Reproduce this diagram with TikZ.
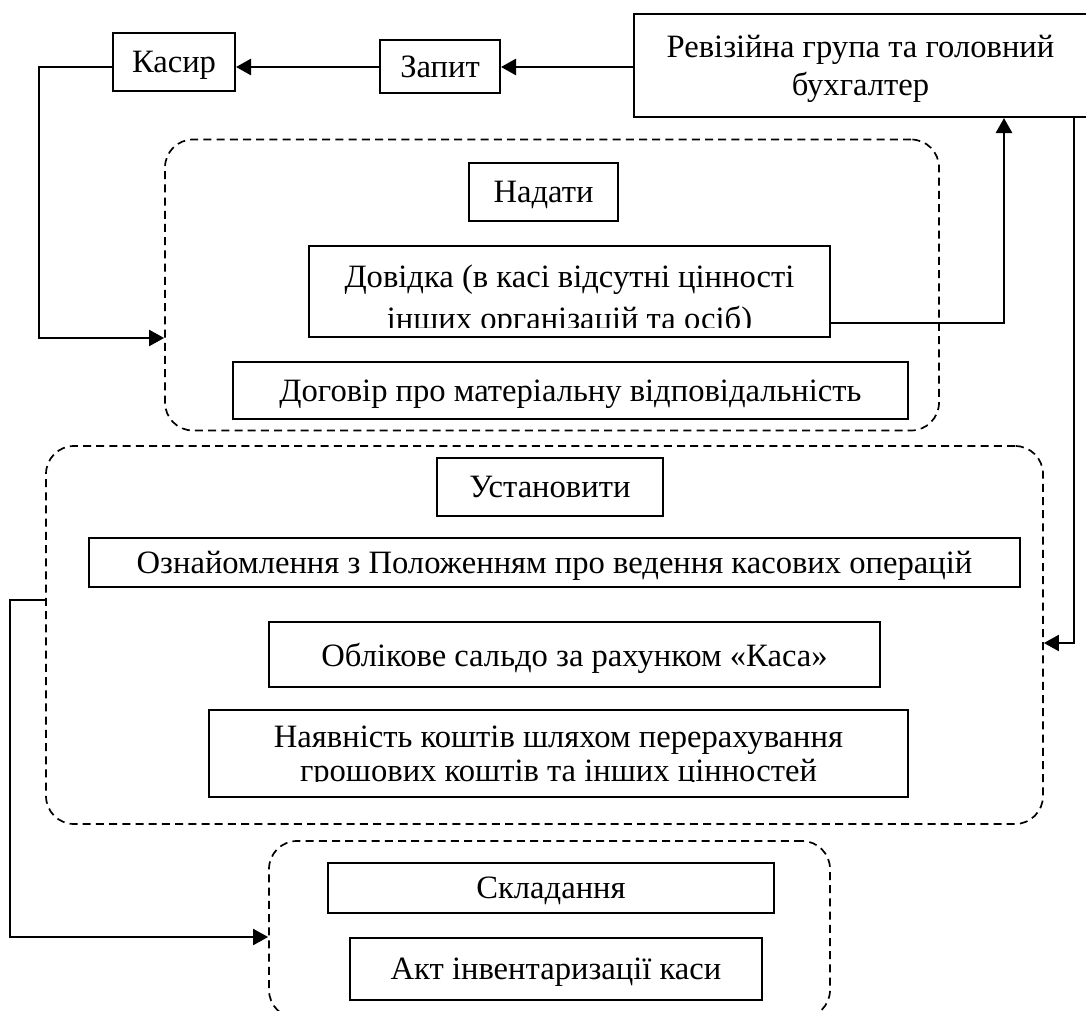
\documentclass[tikz,border=0pt]{standalone}
\usepackage{fontspec}
\setmainfont{Liberation Serif}
\usetikzlibrary{arrows.meta}

\begin{document}
\begin{tikzpicture}
[
    x=0.5pt, y=-0.5pt,
    every node/.style={font=\fontsize{16.3}{19}\selectfont},
    box/.style={draw, line width=1pt, inner sep=0pt, align=center, text depth=0pt},
    group/.style={draw, dashed, dash pattern=on 4pt off 2.6pt, line width=0.85pt,
        rounded corners=14pt, inner sep=0pt},
    conn/.style={line width=1.3pt, -{Triangle[length=7.5pt,width=8pt]}},
    cuttext/.style={anchor=base, align=center, inner sep=0pt,
        font=\fontsize{16.3}{21}\selectfont},
]
\useasboundingbox (0,0) rectangle (1086,1011);

% top row
\node[box, minimum width=61pt, minimum height=29pt] (kasyr) at (174,62) {Касир};
\node[box, minimum width=60pt, minimum height=26.5pt] (zapyt) at (440,67) {Запит};
\node[box, minimum width=226.5pt, minimum height=51.5pt] (revgroup) at (860.5,65.5)
    {Ревізійна група та головний\\бухгалтер};

% first group
\node[group, minimum width=387pt, minimum height=145.5pt] (grp1) at (552,285) {};
\node[box, minimum width=74.5pt, minimum height=29pt] (nadaty) at (543.5,192) {Надати};
\node[box, minimum width=260.5pt, minimum height=45.5pt, path picture={
    \clip ([yshift=5pt]path picture bounding box.south west)
        rectangle (path picture bounding box.north east);
    \node[cuttext] (dovtext) at ([yshift=-41.5pt]path picture bounding box.north)
        {Довідка (в касі відсутні цінності\\інших організацій та осіб)};
}] (dovidka) at (569.5,291.5) {};
\node[box, minimum width=337.5pt, minimum height=28.5pt] (dogovir) at (570.5,390.5)
    {Договір про матеріальну відповідальність};

% second group
\node[group, minimum width=498.5pt, minimum height=189pt] (grp2) at (544.5,635) {};
\node[box, minimum width=113pt, minimum height=29pt] (vstanovyty) at (550,487) {Установити};
\node[box, minimum width=465.5pt, minimum height=24.5pt] (oznaiom) at (554.5,562.5)
    {Ознайомлення з Положенням про ведення касових операцій};
\node[box, minimum width=305.5pt, minimum height=32.5pt] (saldo) at (574.5,654.5)
    {Облікове сальдо за рахунком «Каса»};
\node[box, minimum width=349.5pt, minimum height=43.5pt, path picture={
    \clip ([yshift=8pt]path picture bounding box.south west)
        rectangle (path picture bounding box.north east);
    \node[cuttext, font=\fontsize{16.3}{17}\selectfont] (naytext)
        at ([yshift=-35.5pt]path picture bounding box.north)
        {Наявність коштів шляхом перерахування\\грошових коштів та інших цінностей};
}] (nayavn) at (558.5,753.5) {};

% third group
\node[group, minimum width=280.5pt, minimum height=88.5pt] (grp3) at (549.5,929.5) {};
\node[box, minimum width=223pt, minimum height=25pt] (sklad) at (551,887.7) {Складання};
\node[box, minimum width=206pt, minimum height=31pt] (akt) at (556,969) {Акт інвентаризації каси};

% connectors
\draw[conn] (revgroup.west |- zapyt.east) -- (zapyt.east);
\draw[conn] (zapyt.west) -- (kasyr.east |- zapyt.west);
\draw[conn, line width=1pt] (kasyr.west |- zapyt.west) -- ++(-36.5pt,0)
    |- ([yshift=-26.5pt]grp1.west);
\draw[conn] ([yshift=-15.75pt]dovidka.east) -| ([xshift=-42pt]revgroup.south east);
\draw[conn, line width=1pt] ([xshift=-7pt]revgroup.south east)
    |- ([yshift=-4pt]grp2.east);
\draw[conn, line width=1pt] ([yshift=17.5pt]grp2.west) -- ++(-17.5pt,0)
    |- ([yshift=-3.75pt]grp3.west);
\end{tikzpicture}
\end{document}
